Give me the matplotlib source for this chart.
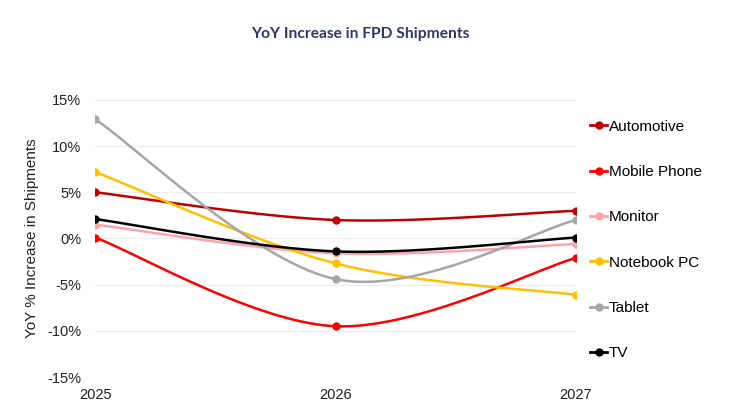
import numpy as np
import matplotlib
matplotlib.use("Agg")
import matplotlib.pyplot as plt
from matplotlib.lines import Line2D

plt.rcParams["font.family"] = ["Liberation Sans", "DejaVu Sans"]

years = [2025, 2026, 2027]
series_names = ["Automotive", "Mobile Phone", "Monitor", "Notebook PC", "Tablet", "TV"]
automotive = [5.0, 2.0, 3.0]
mobile_phone = [0.1, -9.5, -2.1]
monitor = [1.5, -1.6, -0.6]
notebook_pc = [7.2, -2.7, -6.1]
tablet = [12.9, -4.4, 2.0]
tv = [2.1, -1.4, 0.1]
colors = ["#c00000", "#ff0000", "#ffa3ab", "#ffc000", "#a6a6a6", "#000000"]


def smooth(xs, ys, n=60):
    # catmull-rom style bezier smoothing, like spreadsheet "smoothed line"
    xs = np.asarray(xs, float)
    ys = np.asarray(ys, float)
    px = np.concatenate([[xs[0]], xs, [xs[-1]]])
    py = np.concatenate([[ys[0]], ys, [ys[-1]]])
    out_x, out_y = [], []
    for i in range(1, len(px) - 2):
        p0 = np.array([px[i], py[i]])
        p3 = np.array([px[i + 1], py[i + 1]])
        c1 = p0 + (np.array([px[i + 1], py[i + 1]]) - np.array([px[i - 1], py[i - 1]])) / 6
        c2 = p3 - (np.array([px[i + 2], py[i + 2]]) - np.array([px[i], py[i]])) / 6
        t = np.linspace(0, 1, n)[:, None]
        b = (1 - t) ** 3 * p0 + 3 * (1 - t) ** 2 * t * c1 + 3 * (1 - t) * t ** 2 * c2 + t ** 3 * p3
        out_x.extend(b[:, 0])
        out_y.extend(b[:, 1])
    return out_x, out_y


fig = plt.figure(figsize=(7.5, 4.18), dpi=100)
ax = fig.add_axes([0.127, 0.098, 0.641, 0.663])

all_series = [automotive, mobile_phone, monitor, notebook_pc, tablet, tv]
handles = []
for name, vals, c in zip(series_names, all_series, colors):
    sx, sy = smooth(years, vals)
    ax.plot(sx, sy, color=c, lw=1.8, solid_capstyle="round", zorder=3)
    ax.plot(years, vals, "o", color=c, ms=5, zorder=4)
    handles.append(Line2D([0], [0], color=c, lw=2, marker="o", ms=5, label=name))

ax.set_xlim(2025, 2027)
ax.set_ylim(-15, 15)
ax.set_xticks(years)
ax.set_xticklabels([str(y) for y in years])
yt = [-15, -10, -5, 0, 5, 10, 15]
ax.set_yticks(yt)
ax.set_yticklabels([f"{v}%" for v in yt])
ax.grid(axis="y", color="#ebebeb", lw=0.8)
ax.set_axisbelow(True)
for s in ax.spines.values():
    s.set_visible(False)
ax.tick_params(length=0, labelsize=10.5, labelcolor="#222222")
ax.tick_params(axis="y", pad=10)
ax.tick_params(axis="x", pad=8)
ax.set_ylabel("YoY % Increase in Shipments", fontsize=11, color="#222222", labelpad=6)

fig.text(0.481, 0.918, "YoY Increase in FPD Shipments", ha="center", va="center",
         fontsize=11.2, fontweight="bold", color="#2e3766", family=["Lato", "DejaVu Sans"])

fig.legend(handles=handles, loc="upper left", bbox_to_anchor=(0.779, 0.728),
           frameon=False, fontsize=11, handlelength=1.1, handletextpad=0.1,
           labelspacing=2.05, borderaxespad=0)

fig.savefig("out.png", dpi=100)
